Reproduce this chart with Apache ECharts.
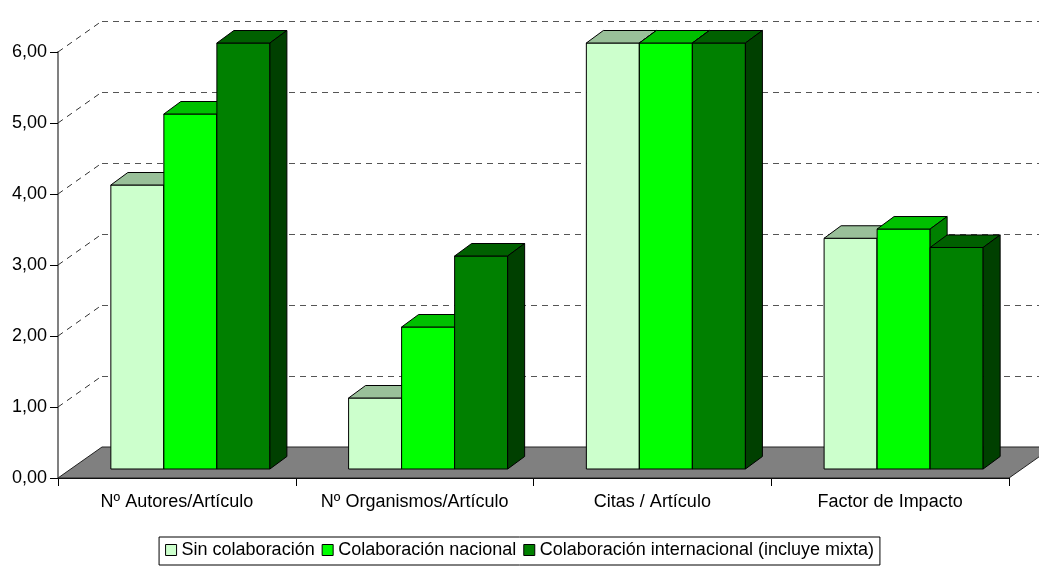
<!DOCTYPE html>
<html>
<head>
<meta charset="utf-8">
<script src="https://cdn.jsdelivr.net/npm/echarts@6/dist/echarts.min.js"></script>
<style>
  html, body { margin: 0; padding: 0; background: #fff; }
  #chart { width: 1039px; height: 566px; }
</style>
</head>
<body>
<div id="chart"></div>
<script>
var categories = ['Nº Autores/Artículo', 'Nº Organismos/Artículo', 'Citas / Artículo', 'Factor de Impacto'];
var seriesNames = ['Sin colaboración', 'Colaboración nacional', 'Colaboración internacional (incluye mixta)'];
var sinColab = [4.0, 1.0, 6.0, 3.25];
var colabNacional = [5.0, 2.0, 6.0, 3.38];
var colabInternacional = [6.0, 3.0, 6.0, 3.12];
var yTicks = [0, 1, 2, 3, 4, 5, 6];

var colors = ['#CCFFCC', '#00FF00', '#008000'];
var topColors = ['#99C099', '#00C000', '#006000'];
var sideColors = ['#669966', '#008000', '#004000'];

// depth of the floor / back wall and of the bars, in px
var WALL_DX = 44, WALL_DY = -31;
var BAR_OFF_X = 13.5, BAR_OFF_Y = -9;
var BAR_DX = 17, BAR_DY = -12.5;

var myChart = echarts.init(document.getElementById('chart'));

function barRenderer(k) {
    return function (params, api) {
        var cat = api.value(0);
        var val = api.value(1);
        var base = api.coord([cat, 0]);
        var top = api.coord([cat, val]);
        var band = api.size([1, 0])[0];
        var w = band * 0.223;
        var x0 = base[0] + (k - 1.5) * w + BAR_OFF_X;
        var yb = base[1] + BAR_OFF_Y;
        var yt = top[1] + BAR_OFF_Y;
        var line = { stroke: '#000', lineWidth: 1 };
        return {
            type: 'group',
            children: [
                { type: 'polygon', shape: { points: [[x0, yb], [x0 + w, yb], [x0 + w, yt], [x0, yt]] },
                  style: Object.assign({ fill: colors[k] }, line) },
                { type: 'polygon', shape: { points: [[x0, yt], [x0 + BAR_DX, yt + BAR_DY], [x0 + w + BAR_DX, yt + BAR_DY], [x0 + w, yt]] },
                  style: Object.assign({ fill: topColors[k] }, line) },
                { type: 'polygon', shape: { points: [[x0 + w, yt], [x0 + w + BAR_DX, yt + BAR_DY], [x0 + w + BAR_DX, yb + BAR_DY], [x0 + w, yb]] },
                  style: Object.assign({ fill: sideColors[k] }, line) }
            ]
        };
    };
}

function toData(arr) {
    return arr.map(function (v, i) { return [i, v]; });
}

var barSeries = [sinColab, colabNacional, colabInternacional].map(function (arr, k) {
    return {
        name: seriesNames[k],
        type: 'custom',
        xAxisIndex: 0,
        yAxisIndex: 0,
        z: 3,
        itemStyle: { color: colors[k], borderColor: '#000', borderWidth: 1 },
        renderItem: barRenderer(k),
        data: toData(arr)
    };
});

// floor
var floorSeries = {
    type: 'custom',
    xAxisIndex: 0,
    yAxisIndex: 0,
    z: 1,
    silent: true,
    renderItem: function (params, api) {
        var cs = params.coordSys;
        var y0 = cs.y + cs.height;
        return {
            type: 'polygon',
            shape: { points: [[cs.x, y0], [cs.x + cs.width, y0], [cs.x + cs.width + WALL_DX, y0 + WALL_DY], [cs.x + WALL_DX, y0 + WALL_DY]] },
            style: { fill: '#808080', stroke: '#222', lineWidth: 1 }
        };
    },
    data: [[0, 0]]
};

// dashed diagonals from the axis ticks to the back wall
var diagSeries = {
    type: 'custom',
    xAxisIndex: 0,
    yAxisIndex: 0,
    z: 1,
    silent: true,
    renderItem: function (params, api) {
        var cs = params.coordSys;
        var p = api.coord([0, api.value(1)]);
        return {
            type: 'line',
            shape: { x1: cs.x, y1: p[1], x2: cs.x + WALL_DX, y2: p[1] + WALL_DY },
            style: { stroke: '#333', lineWidth: 1, lineDash: [6, 5] }
        };
    },
    data: yTicks.slice(1).map(function (v) { return [0, v]; })
};

var option = {
    backgroundColor: '#fff',
    animation: false,
    textStyle: { fontFamily: 'Liberation Sans, Arial, sans-serif' },
    legend: {
        data: seriesNames,
        left: 'center',
        top: 537,
        orient: 'horizontal',
        borderColor: '#000',
        borderWidth: 1,
        padding: [4, 6, 6, 6],
        itemGap: 7,
        itemWidth: 11,
        itemHeight: 11,
        icon: 'rect',
        itemStyle: { borderColor: '#000', borderWidth: 1 },
        textStyle: { fontSize: 18, color: '#000' }
    },
    grid: [
        { left: 58, right: 30, top: 52, bottom: 88 },
        { left: 58 + WALL_DX, right: 30 - WALL_DX, top: 52 + WALL_DY, bottom: 88 - WALL_DY }
    ],
    xAxis: [
        {
            type: 'category',
            gridIndex: 0,
            data: categories,
            axisLine: { show: true, lineStyle: { color: '#000' } },
            axisTick: { show: true, interval: 0, length: 8, lineStyle: { color: '#000' } },
            axisLabel: { interval: 0, hideOverlap: false, fontSize: 18, color: '#000', margin: 15 },
            splitLine: { show: false }
        },
        { type: 'value', gridIndex: 1, show: false, min: 0, max: 1 }
    ],
    yAxis: [
        {
            type: 'value',
            gridIndex: 0,
            min: 0,
            max: 6,
            interval: 1,
            axisLine: { show: true, lineStyle: { color: '#808080', width: 2 } },
            axisTick: { show: true, length: 8, lineStyle: { color: '#000' } },
            axisLabel: {
                fontSize: 18, color: '#000', margin: 11,
                formatter: function (v) { return v.toFixed(2).replace('.', ','); }
            },
            splitLine: { show: false }
        },
        {
            type: 'value',
            gridIndex: 1,
            min: 0,
            max: 6,
            interval: 1,
            axisLine: { show: false },
            axisTick: { show: false },
            axisLabel: { show: false },
            splitLine: { show: true, lineStyle: { color: '#555', type: [6, 5], width: 1 } }
        }
    ],
    series: [floorSeries, diagSeries].concat(barSeries)
};

myChart.setOption(option);
</script>
</body>
</html>
